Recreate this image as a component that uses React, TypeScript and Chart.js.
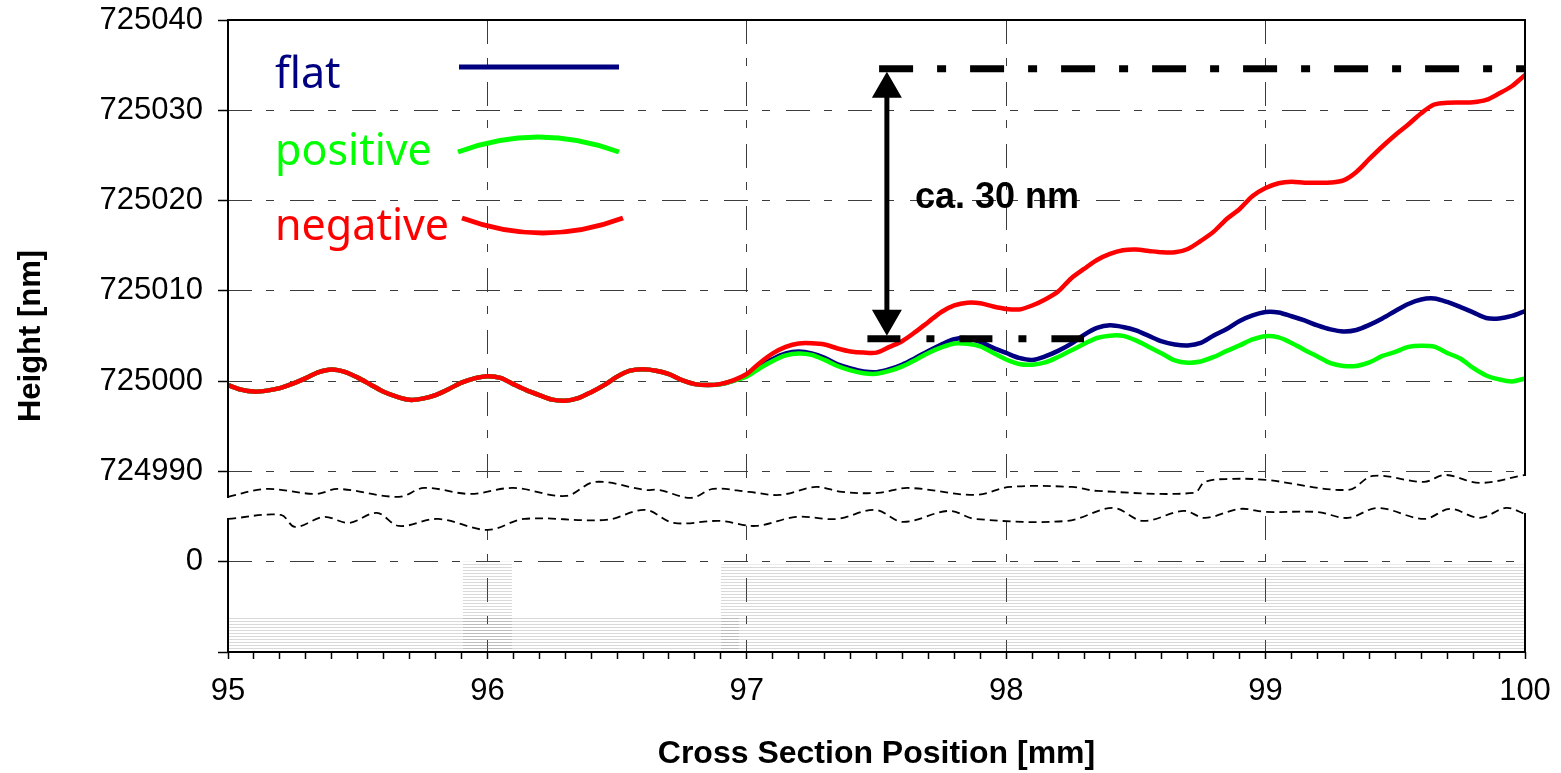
import React, { useEffect, useRef } from 'react';
import { Chart, registerables } from 'chart.js';

Chart.register(...registerables);

// ---- axis mapping constants (upper section: height - BASE; lower section: value + LOWER_ZERO)
const BASE = 725000;
const LOWER_ZERO = -20;

// ---- cross section positions [mm]
const positions = [
  95.0, 95.05, 95.1, 95.15, 95.2, 95.25, 95.3, 95.35, 95.4, 95.45,
  95.5, 95.55, 95.6, 95.65, 95.7, 95.75, 95.8, 95.85, 95.9, 95.95,
  96.0, 96.05, 96.1, 96.15, 96.2, 96.25, 96.3, 96.35, 96.4, 96.45,
  96.5, 96.55, 96.6, 96.65, 96.7, 96.75, 96.8, 96.85, 96.9, 96.95,
  97.0, 97.05, 97.1, 97.15, 97.2, 97.25, 97.3, 97.35, 97.4, 97.45,
  97.5, 97.55, 97.6, 97.65, 97.7, 97.75, 97.8, 97.85, 97.9, 97.95,
  98.0, 98.05, 98.1, 98.15, 98.2, 98.25, 98.3, 98.35, 98.4, 98.45,
  98.5, 98.55, 98.6, 98.65, 98.7, 98.75, 98.8, 98.85, 98.9, 98.95,
  99.0, 99.05, 99.1, 99.15, 99.2, 99.25, 99.3, 99.35, 99.4, 99.45,
  99.5, 99.55, 99.6, 99.65, 99.7, 99.75, 99.8, 99.85, 99.9, 99.95,
  100.0,
];

// ---- heights [nm]
const flatHeights = [
  724999.56, 724999.06, 724998.84, 724998.95, 724999.22, 724999.72, 725000.33, 725001.0, 725001.3, 725001.03,
  725000.39, 724999.61, 724998.82, 724998.28, 724997.93, 724998.06, 724998.45, 724999.11, 724999.83, 725000.3,
  725000.55, 725000.37, 724999.67, 724999.0, 724998.45, 724997.95, 724997.84, 724998.12, 724998.78, 724999.56,
  725000.5, 725001.16, 725001.33, 725001.16, 725000.78, 725000.11, 724999.67, 724999.56, 724999.67, 725000.06,
  725000.63, 725001.61, 725002.46, 725003.07, 725003.27, 725003.07, 725002.57, 725001.85, 725001.4, 725001.07,
  725000.99, 725001.32, 725001.85, 725002.57, 725003.35, 725004.06, 725004.64, 725004.75, 725004.34, 725003.68,
  725003.12, 725002.57, 725002.35, 725002.74, 725003.35, 725004.12, 725005.12, 725005.89, 725006.19, 725006.0,
  725005.62, 725005.01, 725004.4, 725004.06, 725003.95, 725004.23, 725005.06, 725005.78, 725006.67, 725007.28,
  725007.66, 725007.61, 725007.19, 725006.72, 725006.17, 725005.73, 725005.51, 725005.67, 725006.23, 725006.94,
  725007.77, 725008.55, 725009.05, 725009.15, 725008.77, 725008.22, 725007.61, 725007.0, 725006.94, 725007.22,
  725007.77,
];

const positiveHeights = [
  724999.56, 724999.06, 724998.84, 724998.95, 724999.22, 724999.72, 725000.33, 725001.0, 725001.3, 725001.03,
  725000.39, 724999.61, 724998.82, 724998.28, 724997.93, 724998.06, 724998.45, 724999.11, 724999.83, 725000.3,
  725000.55, 725000.37, 724999.67, 724999.0, 724998.45, 724997.95, 724997.84, 724998.12, 724998.78, 724999.56,
  725000.5, 725001.16, 725001.33, 725001.16, 725000.78, 725000.11, 724999.67, 724999.56, 724999.67, 725000.06,
  725000.53, 725001.43, 725002.24, 725002.85, 725003.07, 725002.91, 725002.35, 725001.68, 725001.19, 725000.88,
  725000.82, 725001.13, 725001.63, 725002.35, 725003.12, 725003.74, 725004.18, 725004.14, 725003.84, 725003.12,
  725002.4, 725001.9, 725001.82, 725002.07, 725002.68, 725003.4, 725004.12, 725004.78, 725005.04, 725005.01,
  725004.51, 725003.79, 725003.07, 725002.3, 725002.05, 725002.18, 725002.68, 725003.35, 725003.96, 725004.62,
  725004.98, 725004.84, 725004.23, 725003.46, 725002.74, 725001.99, 725001.68, 725001.68, 725002.07, 725002.79,
  725003.24, 725003.79, 725003.93, 725003.82, 725003.12, 725002.51, 725001.46, 725000.63, 725000.19, 724999.97,
  725000.3,
];

const negativeHeights = [
  724999.56, 724999.06, 724998.84, 724998.95, 724999.22, 724999.72, 725000.33, 725001.0, 725001.3, 725001.03,
  725000.39, 724999.61, 724998.82, 724998.28, 724997.93, 724998.06, 724998.45, 724999.11, 724999.83, 725000.3,
  725000.55, 725000.37, 724999.67, 724999.0, 724998.45, 724997.95, 724997.84, 724998.12, 724998.78, 724999.56,
  725000.5, 725001.16, 725001.33, 725001.16, 725000.78, 725000.11, 724999.67, 724999.56, 724999.7, 725000.12,
  725000.8, 725002.02, 725003.07, 725003.79, 725004.18, 725004.2, 725004.06, 725003.62, 725003.29, 725003.16,
  725003.16, 725003.79, 725004.45, 725005.45, 725006.56, 725007.66, 725008.38, 725008.69, 725008.63, 725008.27,
  725008.0, 725007.94, 725008.38, 725009.05, 725009.93, 725011.37, 725012.43, 725013.42, 725014.09, 725014.5,
  725014.58, 725014.42, 725014.27, 725014.27, 725014.64, 725015.53, 725016.56, 725017.96, 725019.07, 725020.51,
  725021.39, 725021.92, 725022.09, 725021.98, 725021.98, 725022.0, 725022.23, 725023.17, 725024.61, 725025.99,
  725027.26, 725028.43, 725029.68, 725030.64, 725030.83, 725030.86, 725030.89, 725031.14, 725031.86, 725032.69,
  725033.91,
];

// ---- legend
const seriesNames = ['flat', 'positive', 'negative'];
const seriesColors = ['#000080', '#00ff00', '#ff0000'];

// ---- "ca. 30 nm" reference lines [mm, nm]
const refTopX = [97.51, 100.0];
const refTopY = [725034.6, 725034.6];
const refBottomX = [97.465, 98.3];
const refBottomY = [725004.7, 725004.7];
const arrowX = 97.54;
const labelText = 'ca. 30 nm';
const labelX = 97.648;
const labelY = 725019.2;

// ---- axis-break wavy lines (axis units, offset from BASE)
const breakUpperX = [95.0, 95.146, 95.339, 95.424, 95.659, 95.756, 95.933, 96.099, 96.303, 96.415, 96.608, 96.662, 96.785, 96.87, 97.008, 97.128, 97.267, 97.367, 97.506, 97.621, 97.88, 98.015, 98.254, 98.35, 98.724, 98.766, 98.863, 99.002, 99.318, 99.414, 99.611, 99.692, 99.826, 100.0];
const breakUpperY = [-12.82, -11.94, -12.49, -11.94, -12.82, -11.83, -12.49, -11.83, -12.71, -11.16, -12.05, -12.05, -12.93, -11.94, -12.27, -12.6, -11.72, -12.27, -12.38, -11.83, -12.6, -11.72, -11.72, -12.16, -12.38, -11.16, -10.83, -10.94, -12.05, -10.5, -11.16, -10.39, -11.27, -10.39];
const breakLowerX = [95.0, 95.204, 95.258, 95.37, 95.466, 95.574, 95.659, 95.81, 96.002, 96.141, 96.457, 96.608, 96.719, 96.897, 97.035, 97.19, 97.348, 97.494, 97.602, 97.779, 97.88, 98.234, 98.412, 98.527, 98.685, 98.766, 98.901, 99.002, 99.198, 99.318, 99.433, 99.611, 99.711, 99.826, 99.927, 100.0];
const breakLowerY = [-15.26, -14.82, -16.15, -15.04, -15.7, -14.6, -16.04, -15.26, -16.48, -15.26, -15.37, -14.26, -15.7, -15.48, -16.04, -15.04, -15.26, -14.26, -15.59, -14.37, -15.26, -15.48, -14.04, -15.48, -14.37, -15.15, -14.15, -14.49, -14.49, -15.15, -14.04, -15.26, -14.15, -15.15, -14.04, -14.71];

// ---- lower section hatched bands (lower-section values)
const hatchLowX = [95.0, 96.97];
const hatchLowY = [-6.0, -6.0];
const hatchMidX = [95.905, 96.095];
const hatchMidY = [0.0, 0.0];
const hatchWideX = [96.9, 100.0];
const hatchWideY = [-0.3, -0.3];

const FONT = '"Liberation Sans", Arial, sans-serif';
const GRID = '#3c3c3c';
const CLEAR = 'rgba(0,0,0,0)';

const upper = (xs: number[], hs: number[]) => xs.map((x, i) => ({ x, y: hs[i] - BASE }));
const raw = (xs: number[], us: number[]) => xs.map((x, i) => ({ x, y: us[i] }));
const lower = (xs: number[], vs: number[]) => xs.map((x, i) => ({ x, y: vs[i] + LOWER_ZERO }));

const decorPlugin = {
  id: 'decor',
  afterDatasetsDraw(chart: any) {
    const { ctx, chartArea: a, scales } = chart;
    const xs = scales.x;
    const ys = scales.y;
    ctx.save();
    ctx.setLineDash([]);

    // frame with axis-break gaps
    const ul = ys.getPixelForValue(breakUpperY[0]);
    const ll = ys.getPixelForValue(breakLowerY[0]);
    const ur = ys.getPixelForValue(breakUpperY[breakUpperY.length - 1]);
    const lr = ys.getPixelForValue(breakLowerY[breakLowerY.length - 1]);
    ctx.strokeStyle = '#000';
    ctx.lineWidth = 2;
    ctx.lineCap = 'square';
    ctx.beginPath();
    ctx.moveTo(a.left, a.top); ctx.lineTo(a.right, a.top);
    ctx.moveTo(a.left, a.bottom); ctx.lineTo(a.right, a.bottom);
    ctx.moveTo(a.left, a.top); ctx.lineTo(a.left, ul);
    ctx.moveTo(a.left, ll); ctx.lineTo(a.left, a.bottom);
    ctx.moveTo(a.right, a.top); ctx.lineTo(a.right, ur);
    ctx.moveTo(a.right, lr); ctx.lineTo(a.right, a.bottom);
    ctx.stroke();

    // double arrow
    const ax = xs.getPixelForValue(arrowX);
    const t = ys.getPixelForValue(refTopY[0] - BASE) + 3;
    const b = ys.getPixelForValue(refBottomY[0] - BASE) - 3;
    const hw = 15, hh = 26;
    ctx.lineCap = 'butt';
    ctx.lineWidth = 5;
    ctx.beginPath();
    ctx.moveTo(ax, t + hh - 2); ctx.lineTo(ax, b - hh + 2);
    ctx.stroke();
    ctx.fillStyle = '#000';
    ctx.beginPath();
    ctx.moveTo(ax, t); ctx.lineTo(ax - hw, t + hh); ctx.lineTo(ax + hw, t + hh); ctx.closePath();
    ctx.moveTo(ax, b); ctx.lineTo(ax - hw, b - hh); ctx.lineTo(ax + hw, b - hh); ctx.closePath();
    ctx.fill();

    // label
    ctx.font = `bold 36px ${FONT}`;
    ctx.textAlign = 'left';
    ctx.textBaseline = 'alphabetic';
    ctx.fillText(labelText, xs.getPixelForValue(labelX), ys.getPixelForValue(labelY - BASE));

    // legend
    const lx = a.left + 47;
    const baselines = [a.top + 68, a.top + 145, a.top + 220];
    ctx.font = '43px "Noto Sans", sans-serif';
    seriesNames.forEach((n, i) => {
      ctx.fillStyle = seriesColors[i];
      ctx.fillText(n, lx, baselines[i]);
    });
    ctx.lineWidth = 5;
    ctx.lineCap = 'butt';
    ctx.strokeStyle = seriesColors[0];
    ctx.beginPath();
    ctx.moveTo(a.left + 231, a.top + 47); ctx.lineTo(a.left + 391, a.top + 47);
    ctx.stroke();
    ctx.strokeStyle = seriesColors[1];
    ctx.beginPath();
    ctx.moveTo(a.left + 230, a.top + 132);
    ctx.quadraticCurveTo(a.left + 310, a.top + 102, a.left + 391, a.top + 132);
    ctx.stroke();
    ctx.strokeStyle = seriesColors[2];
    ctx.beginPath();
    ctx.moveTo(a.left + 234, a.top + 198);
    ctx.quadraticCurveTo(a.left + 315, a.top + 228, a.left + 395, a.top + 198);
    ctx.stroke();
    ctx.restore();
  },
};

export default function App() {
  const ref = useRef<HTMLCanvasElement | null>(null);

  useEffect(() => {
    document.body.style.margin = '0';
    const canvas = ref.current;
    if (!canvas) return;

    const tile = document.createElement('canvas');
    tile.width = 4;
    tile.height = 3;
    const tctx = tile.getContext('2d')!;
    tctx.fillStyle = 'rgba(120,120,120,0.28)';
    tctx.fillRect(0, 0, 4, 1);
    const hatch = canvas.getContext('2d')!.createPattern(tile, 'repeat');

    const series = (data: any, color: string, order: number) => ({
      data, borderColor: color, borderWidth: 4.5, pointRadius: 0, tension: 0.3, fill: false, order,
    });
    const band = (data: any) => ({
      data, borderColor: CLEAR, borderWidth: 0, pointRadius: 0, tension: 0, fill: 'start', backgroundColor: hatch, order: 9,
    });

    const chart = new Chart(canvas, {
      type: 'line',
      data: {
        datasets: [
          { ...series(upper(positions, flatHeights), seriesColors[0], 3), label: seriesNames[0] },
          { ...series(upper(positions, positiveHeights), seriesColors[1], 2), label: seriesNames[1] },
          { ...series(upper(positions, negativeHeights), seriesColors[2], 1), label: seriesNames[2] },
          {
            data: upper(refTopX, refTopY), borderColor: '#000', borderWidth: 7, borderDash: [34, 24, 9, 24],
            borderCapStyle: 'butt', pointRadius: 0, tension: 0, fill: false, order: 0,
          },
          {
            data: upper(refBottomX, refBottomY), borderColor: '#000', borderWidth: 7, borderDash: [33, 26, 8, 25],
            borderCapStyle: 'butt', pointRadius: 0, tension: 0, fill: false, order: 0,
          },
          {
            data: raw(breakUpperX, breakUpperY), borderColor: '#000', borderWidth: 1.8, borderDash: [8, 5],
            pointRadius: 0, tension: 0.35, fill: false, order: 5,
          },
          {
            data: raw(breakLowerX, breakLowerY), borderColor: '#000', borderWidth: 1.8, borderDash: [8, 5],
            pointRadius: 0, tension: 0.35, fill: '-1', backgroundColor: '#ffffff', order: 6,
          },
          band(lower(hatchLowX, hatchLowY)),
          band(lower(hatchMidX, hatchMidY)),
          band(lower(hatchWideX, hatchWideY)),
        ] as any,
      },
      options: {
        responsive: false,
        animation: false,
        events: [],
        layout: { padding: { left: 0, top: 20, right: 36, bottom: 0 }, autoPadding: false },
        plugins: { legend: { display: false }, tooltip: { enabled: false } },
        scales: {
          x: {
            type: 'linear',
            min: 95,
            max: 100,
            ticks: {
              stepSize: 0.1,
              autoSkip: false,
              maxRotation: 0,
              minRotation: 0,
              padding: 14,
              color: '#000',
              font: { family: FONT, size: 31 },
              callback: (v: any) => (Math.abs(v - Math.round(v)) < 1e-6 ? String(Math.round(v)) : ''),
            },
            grid: {
              color: (c: any) => {
                const v = c.tick ? c.tick.value : 0;
                const major = Math.abs(v - Math.round(v)) < 1e-6;
                return major && v > 95.5 && v < 99.5 ? GRID : CLEAR;
              },
              lineWidth: 1,
              tickColor: '#000',
              tickLength: 7,
              tickWidth: 1.5,
            },
            border: { display: false, dash: [24, 14, 8, 16] },
            title: {
              display: true,
              text: 'Cross Section Position [mm]',
              color: '#000',
              font: { family: FONT, size: 32, weight: 'bold' },
              padding: { top: 0, bottom: 0 },
            },
            afterFit: (s: any) => {
              s.height = 121;
              s.paddingLeft = 0;
              s.paddingRight = 0;
            },
          },
          y: {
            type: 'linear',
            min: -30,
            max: 40,
            ticks: {
              stepSize: 10,
              padding: 15,
              color: '#000',
              font: { family: FONT, size: 31 },
              callback: (v: any) => (v >= -10 ? String(BASE + v) : v === LOWER_ZERO ? '0' : ''),
            },
            grid: {
              color: (c: any) => {
                const v = c.tick ? c.tick.value : -30;
                return v > -30 && v < 40 ? GRID : CLEAR;
              },
              lineWidth: 1,
              tickColor: '#000',
              tickLength: 10,
              tickWidth: 1.5,
            },
            border: { display: false, dash: [24, 14, 8, 16] },
            title: {
              display: true,
              text: 'Height [nm]',
              color: '#000',
              font: { family: FONT, size: 31, weight: 'bold' },
              padding: { top: 13, bottom: 0 },
            },
            afterFit: (s: any) => {
              s.width = 228;
              s.paddingTop = 0;
              s.paddingBottom = 0;
            },
          },
        },
      } as any,
      plugins: [decorPlugin],
    });

    return () => chart.destroy();
  }, []);

  return (
    <div style={{ width: 1561, height: 773 }}>
      <canvas ref={ref} width={1561} height={773} style={{ display: 'block', width: 1561, height: 773 }} />
    </div>
  );
}
